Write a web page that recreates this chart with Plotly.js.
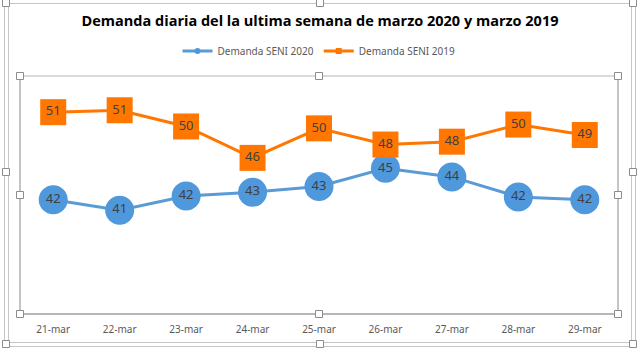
<!DOCTYPE html>
<html>
<head>
<meta charset="utf-8">
<script src="https://cdn.plot.ly/plotly-3.0.1.min.js"></script>
<style>html,body{margin:0;padding:0;background:#fff;}#chart{width:640px;height:348px;}</style>
</head>
<body>
<div id="chart"></div>
<script>
const categories = ["21-mar","22-mar","23-mar","24-mar","25-mar","26-mar","27-mar","28-mar","29-mar"];
const seni2020 = [42.0, 40.9, 42.4, 42.8, 43.4, 45.3, 44.4, 42.3, 42.0];
const seni2019 = [51.2, 51.4, 49.7, 46.4, 49.5, 47.8, 48.1, 49.9, 48.8];
const labels2020 = ["42","41","42","43","43","45","44","42","42"];
const labels2019 = ["51","51","50","46","50","48","48","50","49"];

const L = 20, R = 618, T = 76, B = 314;
const px = x => (x - L) / (R - L);
const py = y => (B - y) / (B - T);

const shapes = [];
function line(x0, y0, x1, y1, color, w) {
  shapes.push({type:'line', xref:'paper', yref:'paper', x0:px(x0), y0:py(y0), x1:px(x1), y1:py(y1),
    line:{color:color, width:w||1}, layer:'above'});
}
function handle(x, y) {
  shapes.push({type:'rect', xref:'paper', yref:'paper', x0:px(x-3.5), y0:py(y+3.5), x1:px(x+3.5), y1:py(y-3.5),
    line:{color:'#8c8c8c', width:1}, fillcolor:'#ffffff', layer:'above'});
}
// outer chart area double frame
const oc = '#c6c6c6';
line(4.5, 0, 4.5, 348, oc); line(8.5, 3, 8.5, 342, oc);
line(631.5, 3, 631.5, 342, oc); line(635.5, 0, 635.5, 348, oc);
line(4, 3.5, 636, 3.5, oc);
line(8, 342.5, 632, 342.5, oc); line(4, 346.5, 636, 346.5, oc);
// plot area frame
line(L, T, R, T, '#b4b4b4');
line(L, T, L, B, '#8a8a8a');
line(R, T, R, B, '#8a8a8a');
line(L, B, R, B, '#6e6e6e');
// handles
[[6,3],[320,3],[633,3],[6,172],[633,172],[6,344],[320,344],[633,344]].forEach(h => handle(h[0], h[1]));
[[L,T],[319,T],[R,T],[L,195],[R,195],[L,B],[319,B],[R,B]].forEach(h => handle(h[0], h[1]));

const blue = '#5b9bd5', blueMk = '#4f98dc', orange = '#ff7700';
const labelFont = {family: 'Noto Sans, sans-serif', size: 13, color: '#404040'};

const data = [
  {x: categories, y: seni2020, name: 'Demanda SENI 2020', type: 'scatter', mode: 'lines+markers+text',
   text: labels2020, textposition: 'middle center', cliponaxis: false, showlegend: false,
   textfont: labelFont, line: {color: blue, width: 3}, marker: {symbol: 'circle', size: 29, color: blueMk}},
  {x: categories, y: seni2019, name: 'Demanda SENI 2019', type: 'scatter', mode: 'lines+markers+text',
   text: labels2019, textposition: 'middle center', cliponaxis: false, showlegend: false,
   textfont: labelFont, line: {color: orange, width: 3}, marker: {symbol: 'square', size: 26, color: orange}},
  {x: [null], y: [null], name: 'Demanda SENI 2020', type: 'scatter', mode: 'lines+markers', showlegend: true,
   line: {color: blue, width: 3}, marker: {symbol: 'circle', size: 6, color: blueMk}},
  {x: [null], y: [null], name: 'Demanda SENI 2019', type: 'scatter', mode: 'lines+markers', showlegend: true,
   line: {color: orange, width: 3}, marker: {symbol: 'square', size: 6, color: orange}}
];

const layout = {
  width: 640, height: 348,
  margin: {l: L, r: 640 - R, t: T, b: 348 - B, pad: 0},
  paper_bgcolor: '#ffffff', plot_bgcolor: '#ffffff',
  title: {text: '<b>Demanda diaria del la ultima semana de marzo 2020 y marzo 2019</b>',
    x: 0.5, xanchor: 'center', xref: 'container', y: 1 - 21/348, yanchor: 'middle', yref: 'container',
    font: {family: 'Open Sans, sans-serif', size: 14.5, color: '#000000'}},
  showlegend: true,
  legend: {orientation: 'h', x: 0.5, xanchor: 'center', y: py(51), yanchor: 'middle',
    font: {family: 'Noto Sans, sans-serif', size: 10, color: '#595959'}, bgcolor: 'rgba(0,0,0,0)',
    itemwidth: 30, tracegroupgap: 0},
  xaxis: {type: 'category', range: [-0.5, 8.5], showgrid: false, zeroline: false, showline: false, ticks: '',
    ticklabelstandoff: 8,
    tickfont: {family: 'Noto Sans, sans-serif', size: 10, color: '#595959'}, fixedrange: true},
  yaxis: {range: [30, 55], visible: false, showgrid: false, zeroline: false, fixedrange: true},
  shapes: shapes
};

Plotly.newPlot('chart', data, layout, {displayModeBar: false, staticPlot: true});
</script>
</body>
</html>
